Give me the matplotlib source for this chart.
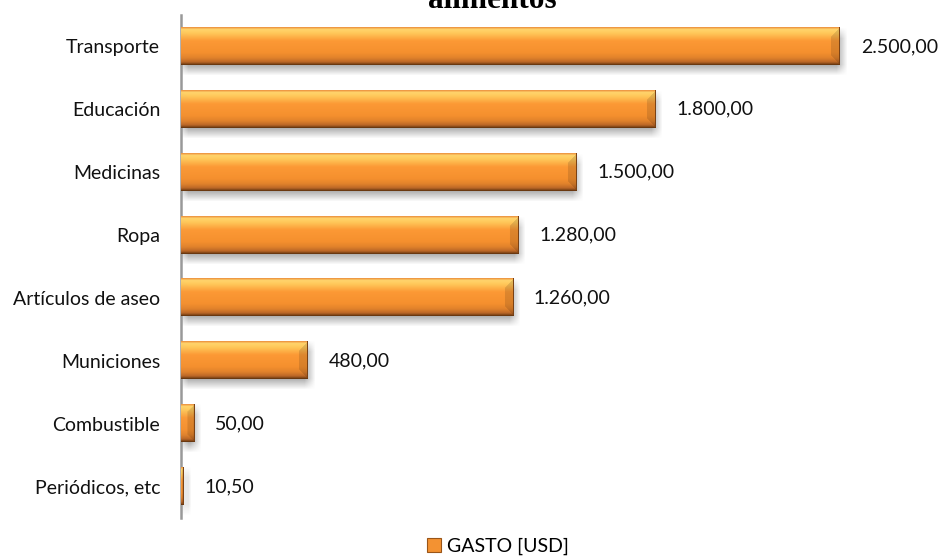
import numpy as np
import matplotlib
matplotlib.use("Agg")
import matplotlib.pyplot as plt
from matplotlib.patches import Patch
from matplotlib.colors import to_rgb

# Spending by category (USD)
categories = ["Transporte", "Educación", "Medicinas", "Ropa",
              "Artículos de aseo", "Municiones", "Combustible", "Periódicos, etc"]
gasto = [2500.00, 1800.00, 1500.00, 1280.00, 1260.00, 480.00, 50.00, 10.50]
series_name = "GASTO [USD]"
title_text = "alimentos"

LABEL_FONT = "Lato"
FS = 14

W, H, DPI = 939, 557, 100
fig = plt.figure(figsize=(W / DPI, H / DPI), dpi=DPI)
ax = fig.add_axes([181 / W, 39 / H, 738 / W, 503 / H])

XMAX = 2800
n = len(categories)
ypos = np.arange(n)
bar_h = 0.59

bars = ax.barh(ypos, gasto, height=bar_h, color="none", edgecolor="none")
ax.set_xlim(0, XMAX)
ax.set_ylim(n - 0.5, -0.5)

# pixel <-> data conversions for the fixed axes box
px_x = XMAX / 738
px_y = n / 503


def lerp_stops(stops, t):
    pos = np.array([s[0] for s in stops])
    cols = np.array([to_rgb(s[1]) for s in stops])
    return np.stack([np.interp(t, pos, cols[:, k]) for k in range(3)], axis=-1)


face_stops = [(0.00, "#EE9A45"), (0.05, "#FFD46C"), (0.15, "#FFC85A"),
              (0.36, "#FC9935"), (0.68, "#F5902E"), (0.82, "#E1822B"),
              (0.93, "#BC6827"), (1.00, "#6E3A12")]


def bevel_image(wpx, hpx):
    w = max(int(round(wpx)), 2)
    h = max(int(round(hpx)), 2)
    t = np.linspace(0, 1, h)
    col = lerp_stops(face_stops, t)
    img = np.tile(col[:, None, :], (1, w, 1))
    b = min(9.0, w / 2.0, h / 2.0)
    yy, xx = np.mgrid[0:h, 0:w]
    left = (xx < b) & (xx < yy) & (xx < h - 1 - yy)
    rx = w - 1 - xx
    right = (rx < b) & (rx < yy) & (rx < h - 1 - yy)
    img[left] = np.clip(img[left] * 0.97 + 0.02, 0, 1)
    img[right] = img[right] * 0.88
    img[:, -1, :] = to_rgb("#7A4215")
    img[-1, :, :] = to_rgb("#6A3810")
    return img


def shadow_image(wpx, hpx, pad=6):
    w = int(round(wpx)) + 2 * pad
    h = int(round(hpx)) + 2 * pad
    mask = np.zeros((h, w))
    mask[pad:h - pad, pad:w - pad] = 1.0
    k = np.ones(2 * pad - 1) / (2 * pad - 1)
    for axis in (0, 1):
        mask = np.apply_along_axis(lambda m: np.convolve(m, k, mode="same"), axis, mask)
    rgba = np.zeros((h, w, 4))
    rgba[..., :3] = 0.45
    rgba[..., 3] = mask * 0.6
    return rgba


for rect in bars:
    x0, yc = rect.get_x(), rect.get_y() + rect.get_height() / 2
    wdata, hdata = rect.get_width(), rect.get_height()
    wpx, hpx = wdata / px_x, hdata / px_y
    pad = 6
    sh = shadow_image(wpx, hpx, pad)
    sx0 = x0 - pad * px_x + 2 * px_x
    sx1 = sx0 + sh.shape[1] * px_x
    sy_top = yc - hdata / 2 - pad * px_y + 5 * px_y
    sy_bot = sy_top + sh.shape[0] * px_y
    ax.imshow(sh, extent=(sx0, sx1, sy_bot, sy_top), aspect="auto",
              interpolation="bilinear", zorder=2)
    img = bevel_image(wpx, hpx)
    ax.imshow(img, extent=(x0, x0 + wdata, yc + hdata / 2, yc - hdata / 2),
              aspect="auto", interpolation="bilinear", zorder=3)

ax.set_xlim(0, XMAX)
ax.set_ylim(n - 0.5, -0.5)


def fmt_es(v):
    s = f"{v:,.2f}"
    return s.replace(",", "X").replace(".", ",").replace("X", ".")


for i, v in enumerate(gasto):
    ax.annotate(fmt_es(v), xy=(v, i), xytext=(15, 0), textcoords="offset points",
                va="center", ha="left", fontsize=FS, family=LABEL_FONT, color="#111111")

ax.set_yticks(ypos)
ax.set_yticklabels(categories, family=LABEL_FONT, fontsize=FS, color="#111111")
ax.tick_params(axis="y", length=0, pad=15)
ax.set_xticks([])
for s in ("top", "right", "bottom"):
    ax.spines[s].set_visible(False)
ax.spines["left"].set_color("#999999")
ax.spines["left"].set_linewidth(1.8)
ax.set_facecolor("none")

# Second line of the chart title; the first line sits above the canvas
fig.text(492 / W, 1 - 8 / H, title_text, ha="center", va="baseline",
         family="Liberation Serif", fontweight="bold", fontsize=22.5, color="#000000")

fig.legend(handles=[Patch(facecolor="#F39232", edgecolor="#9A5518", linewidth=0.8)],
           labels=[series_name], loc="center", bbox_to_anchor=(498 / W, 1 - 546 / H),
           frameon=False, handlelength=0.75, handleheight=0.75, handletextpad=0.3,
           borderpad=0, prop={"family": LABEL_FONT, "size": FS})

fig.savefig("out.png", dpi=DPI, facecolor="white")
